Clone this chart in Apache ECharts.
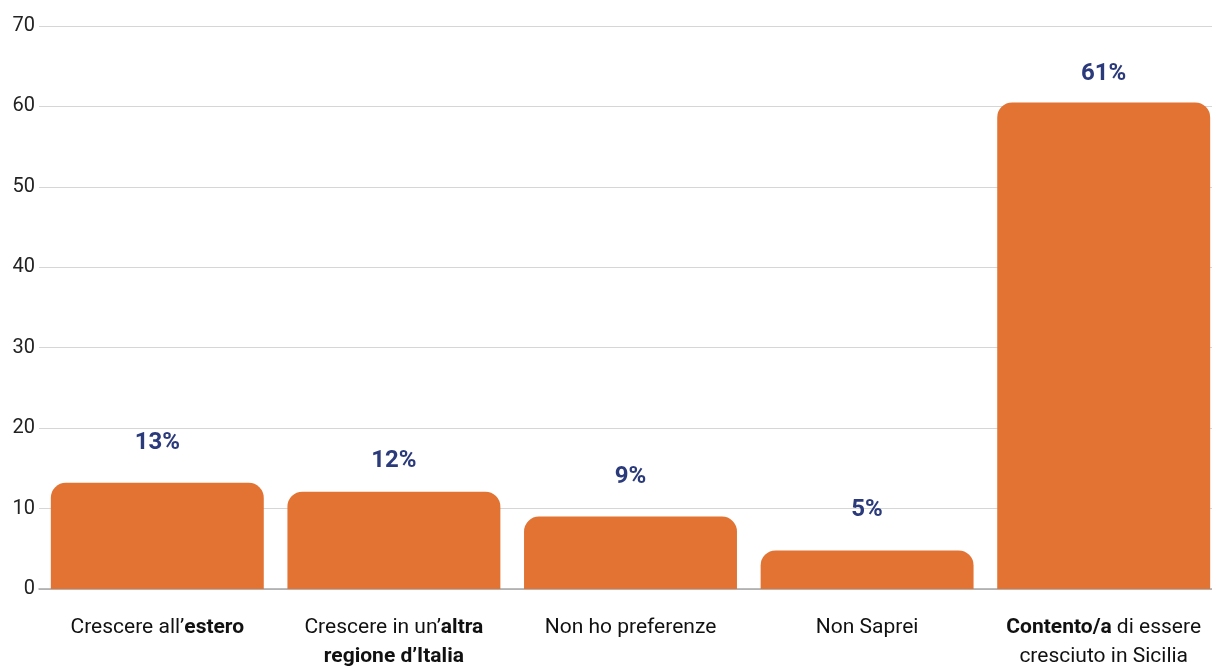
<!DOCTYPE html>
<html>
<head>
<meta charset="utf-8">
<script src="https://cdn.jsdelivr.net/npm/echarts@6/dist/echarts.min.js"></script>
<style>
html,body{margin:0;padding:0;background:#fff;overflow:hidden;}
#c{width:1222px;height:667px;}
</style>
</head>
<body>
<div id="c"></div>
<script>
const categories = [
  "{n|Crescere all’}{b|estero}",
  "{n|Crescere in un’}{b|altra}\n{b|regione d’Italia}",
  "{n|Non ho preferenze}",
  "{n|Non Saprei}",
  "{b|Contento/a}{n| di essere}\n{n|cresciuto in Sicilia}"
];
const values = [13.2, 12.1, 9.0, 4.8, 60.5];
const valueLabels = ["13%", "12%", "9%", "5%", "61%"];
const yTicks = { min: 0, max: 70, interval: 10 };

const labelGaps = [28, 19, 28, 28, 16];

const chart = echarts.init(document.getElementById('c'), null, {renderer: 'canvas'});
chart.setOption({
  animation: false,
  grid: { left: 39, right: 0, top: 26, bottom: 78, containLabel: false },
  xAxis: {
    type: 'category',
    data: categories,
    axisLine: { show: true, lineStyle: { color: '#a6a6a6', width: 1.5 } },
    axisTick: { show: false },
    axisLabel: {
      margin: 24,
      interval: 0,
      align: 'center',
      rich: {
        n: { fontFamily: 'Roboto', fontSize: 21, color: '#111', lineHeight: 29 },
        b: { fontFamily: 'Roboto', fontSize: 21, fontWeight: 'bold', color: '#111', lineHeight: 29 }
      }
    }
  },
  yAxis: {
    type: 'value',
    min: yTicks.min, max: yTicks.max, interval: yTicks.interval,
    axisLine: { show: false },
    axisTick: { show: false },
    axisLabel: { fontFamily: 'Roboto', fontSize: 20, color: '#222', margin: 4 },
    splitLine: { lineStyle: { color: '#d6d6d6', width: 1.2 } }
  },
  series: [{
    type: 'bar',
    barWidth: '90%',
    data: values.map((v, i) => ({
      value: v,
      label: { distance: labelGaps[i] }
    })),
    itemStyle: { color: '#E37333', borderRadius: [15, 15, 0, 0] },
    label: {
      show: true,
      position: 'top',
      formatter: p => valueLabels[p.dataIndex],
      fontFamily: 'Roboto',
      fontSize: 24,
      fontWeight: 'bold',
      color: '#2B3A7B'
    }
  }]
});
</script>
</body>
</html>
